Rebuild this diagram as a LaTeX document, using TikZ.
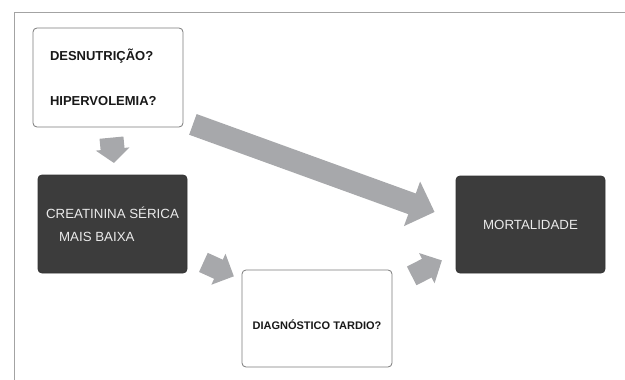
\documentclass[tikz,border=0pt]{standalone}
\usepackage{fontspec}
\setmainfont{Liberation Sans}
\usetikzlibrary{arrows.meta}
\definecolor{framegray}{HTML}{A3A3A3}
\definecolor{arrowgray}{HTML}{A7A8AB}
\definecolor{boxdark}{HTML}{3C3C3C}
\definecolor{boxline}{HTML}{7A7A7A}
\tikzstyle{lightbox}=[draw=boxline, line width=0.8pt, fill=white, rounded corners=4pt, inner sep=0pt, text=black!90, font=\bfseries\fontsize{13}{15.6}\selectfont]
\tikzstyle{darkbox}=[draw=black!80, line width=0.8pt, fill=boxdark, rounded corners=4pt, inner sep=0pt, text=white!92!black, font=\fontsize{13.3}{15.6}\selectfont]
\tikzstyle{fatarrow}=[draw=arrowgray, line width=21pt, -{Triangle[width=33pt,length=17pt]}]

\begin{document}
\begin{tikzpicture}[x=1pt, y=-1pt]
  \useasboundingbox (0,0) rectangle (625,380);
  % frame
  \draw[framegray, line width=1pt] (14,380) -- (14,12.5) -- (625,12.5);

  \node[lightbox, minimum width=150pt, minimum height=99pt, align=left, text width=116pt]
    (risk)  at (108,77.5)  {DESNUTRIÇÃO?\\[29.4pt]HIPERVOLEMIA?};
  \node[darkbox, minimum width=149pt, minimum height=98pt, align=left]
    (creat) at (112.5,224) {CREATININA SÉRICA\\[7.4pt]\hspace*{13pt}MAIS BAIXA};
  \node[lightbox, minimum width=150pt, minimum height=97pt, text height=21pt, text depth=0pt,
        font=\bfseries\fontsize{11}{13}\selectfont]
    (diag)  at (317,318.5) {DIAGNÓSTICO TARDIO?};
  \node[darkbox, minimum width=149pt, minimum height=97pt]
    (mort)  at (530.5,224.5) {MORTALIDADE};

  \draw[fatarrow, line width=24pt, -{Triangle[width=33pt,length=14pt]},
        shorten <=10.3pt, shorten >=11.7pt]
    ([xshift=2.5pt]risk.south) -- ([xshift=2.5pt]creat.north);
  \draw[fatarrow, line width=22pt, -{Triangle[width=46pt,length=24pt]}]
    ([xshift=9.5pt,yshift=3pt]risk.south east) -- ([xshift=-21pt,yshift=12.5pt]mort.west);
  \draw[fatarrow]
    ([xshift=16pt,yshift=11pt]creat.south east) -- ([xshift=-7.7pt,yshift=-6.7pt]diag.north west);
  \draw[fatarrow]
    ([xshift=19.3pt,yshift=-6.3pt]diag.north east) -- ([xshift=-13.7pt,yshift=13pt]mort.south west);
\end{tikzpicture}
\end{document}
